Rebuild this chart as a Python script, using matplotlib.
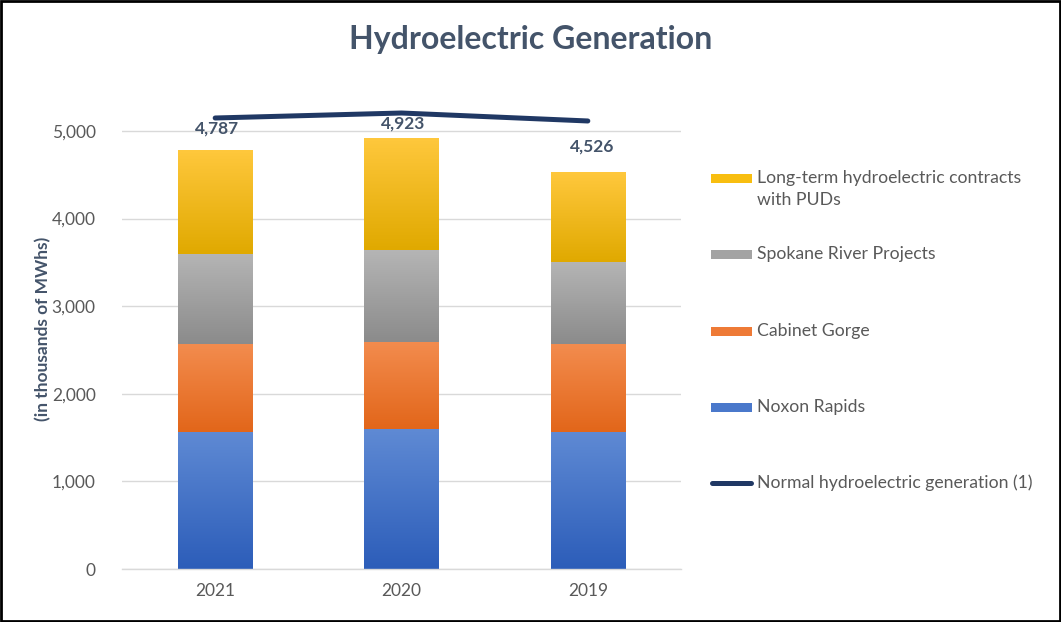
import numpy as np
import matplotlib
matplotlib.use("Agg")
import matplotlib.pyplot as plt
from matplotlib.patches import Rectangle
from matplotlib.lines import Line2D
from matplotlib.colors import LinearSegmentedColormap

# ---------------- data ----------------
years = ["2021", "2020", "2019"]
noxon = [1567, 1595, 1567]
cabinet = [1001, 1000, 998]
spokane = [1028, 1047, 940]
long_term = [1191, 1281, 1021]
totals = [4787, 4923, 4526]
normal = [5148, 5205, 5114]
yticks = [0, 1000, 2000, 3000, 4000, 5000]

series_names = ["Noxon Rapids", "Cabinet Gorge", "Spokane River Projects",
                "Long-term hydroelectric contracts\nwith PUDs"]
line_name = "Normal hydroelectric generation (1)"

# gradient colours (top, bottom)
grads = [("#5F8AD4", "#2C5DB9"),
         ("#F38C4E", "#E2661A"),
         ("#B5B5B5", "#8B8B8B"),
         ("#FFC83D", "#E0A900")]
legend_colors = ["#4A78CB", "#EE7A36", "#A3A3A3", "#F8BE10"]
line_color = "#203864"
title_color = "#44546A"
text_color = "#595959"
grid_color = "#D9D9D9"
FONT = "Lato"
plt.rcParams["font.family"] = [FONT, "DejaVu Sans"]

W, H = 1061, 622
fig = plt.figure(figsize=(W / 100, H / 100), dpi=100)
ax = fig.add_axes([122 / W, 1 - 569 / H, (681 - 122) / W, (569 - 78.4) / H])

x = np.arange(len(years))
bottoms = np.zeros(len(years))
stack = [noxon, cabinet, spokane, long_term]
grad = np.linspace(0, 1, 256).reshape(-1, 1)
for vals, (ctop, cbot) in zip(stack, grads):
    bars = ax.bar(x, vals, bottom=bottoms, width=0.4, color="none",
                  edgecolor="none", zorder=2)
    cmap = LinearSegmentedColormap.from_list("g", [cbot, ctop])
    for b in bars:
        x0, y0, w, h = b.get_x(), b.get_y(), b.get_width(), b.get_height()
        im = ax.imshow(grad, cmap=cmap, origin="lower", aspect="auto",
                       extent=(x0, x0 + w, y0, y0 + h), zorder=2)
        im.set_clip_path(b)
    bottoms += np.array(vals)

ax.plot(x, normal, color=line_color, lw=3.6, solid_capstyle="round", zorder=4)

label_offsets = [13, 6, 18]
label_dx = [2, 2, 4]
for xi, t, dy, dx in zip(x, totals, label_offsets, label_dx):
    ax.annotate(f"{t:,}", (xi, t), xytext=(dx, dy), textcoords="offset pixels",
                ha="center", va="bottom", fontsize=12.5, fontweight="bold",
                color=title_color, zorder=5)

ax.set_xlim(-0.5, len(years) - 0.5)
ax.set_ylim(0, 5600)
ax.set_yticks(yticks)
ax.set_yticklabels([f"{v:,}" for v in yticks])
ax.set_xticks(x)
ax.set_xticklabels(years)
ax.tick_params(axis="both", length=0, labelsize=12.5, labelcolor=text_color)
ax.tick_params(axis="y", pad=19)
ax.tick_params(axis="x", pad=10)
ax.grid(axis="y", color=grid_color, lw=1, zorder=0)
ax.set_axisbelow(True)
for s in ["top", "right", "left"]:
    ax.spines[s].set_visible(False)
ax.spines["bottom"].set_color(grid_color)
ax.spines["bottom"].set_linewidth(1)
ax.set_facecolor("none")

fig.text(531 / W, 1 - 40 / H, "Hydroelectric Generation", ha="center",
         va="center", fontsize=23, fontweight="bold", color=title_color)
fig.text(43 / W, 1 - 329 / H, "(in thousands of MWhs)", rotation=90,
         ha="center", va="center", fontsize=12.5, fontweight="bold",
         color=title_color)

# legend (manual, Excel-like even spacing)
leg_y = [178, 254, 331, 407]
for name, col, yy in zip(series_names[::-1], legend_colors[::-1], leg_y):
    fig.patches.append(Rectangle((711 / W, 1 - (yy + 4.5) / H), 41 / W, 9 / H,
                                 transform=fig.transFigure, facecolor=col,
                                 edgecolor="none"))
    for k, ln in enumerate(name.split("\n")):
        fig.text(757 / W, 1 - (yy + 22 * k) / H, ln, ha="left", va="center",
                 fontsize=12.7, color=text_color)
fig.lines.append(Line2D([712 / W, 751 / W], [1 - 483 / H, 1 - 483 / H],
                        transform=fig.transFigure, color=line_color, lw=3.6,
                        solid_capstyle="round"))
fig.text(757 / W, 1 - 483 / H, line_name, ha="left", va="center", fontsize=12.7,
         color=text_color)

fig.patches.append(Rectangle((0.001, 0.0015), 0.998, 0.997, transform=fig.transFigure,
                             fill=False, edgecolor="black", lw=2))

fig.savefig("out.png", dpi=100)
